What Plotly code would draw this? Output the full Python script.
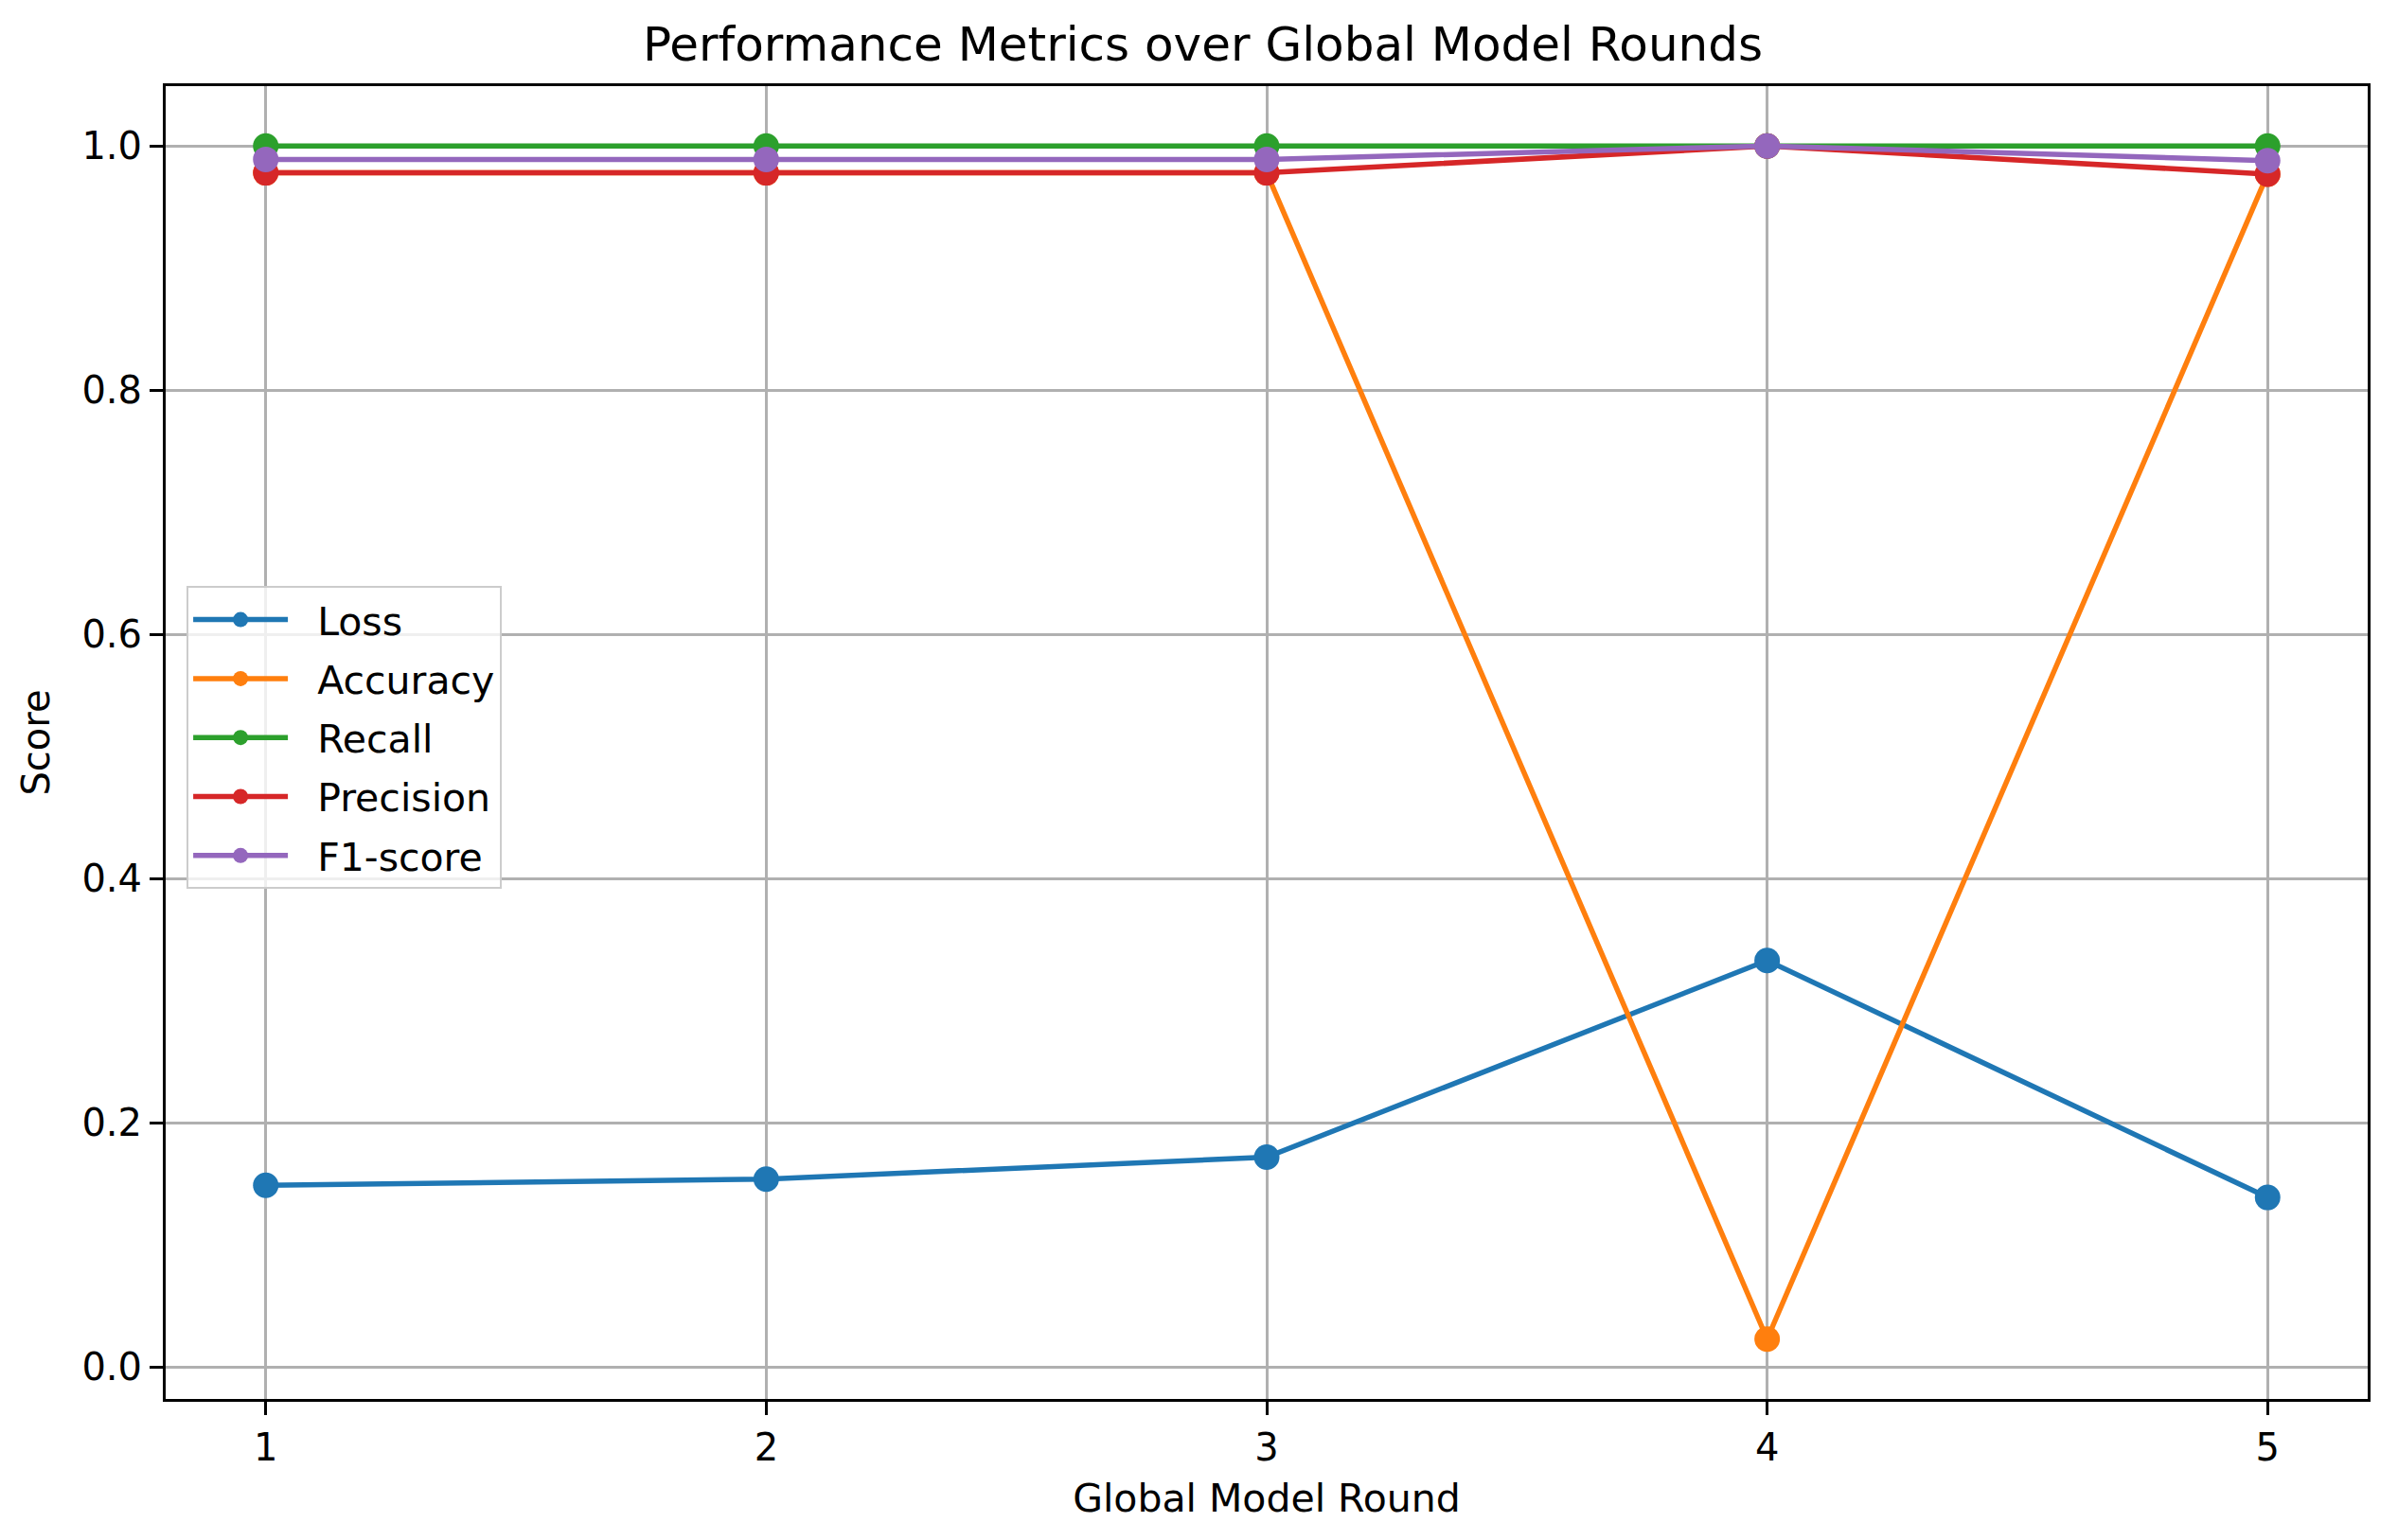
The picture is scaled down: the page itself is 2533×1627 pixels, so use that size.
import plotly.graph_objects as go

rounds = [1, 2, 3, 4, 5]
loss = [0.149, 0.154, 0.172, 0.333, 0.139]
accuracy = [0.978, 0.978, 0.978, 0.023, 0.977]
recall = [1.0, 1.0, 1.0, 1.0, 1.0]
precision = [0.978, 0.978, 0.978, 1.0, 0.977]
f1_score = [0.989, 0.989, 0.989, 1.0, 0.988]

series_names = ["Loss", "Accuracy", "Recall", "Precision", "F1-score"]
series_values = [loss, accuracy, recall, precision, f1_score]
colors = ["#1f77b4", "#ff7f0e", "#2ca02c", "#d62728", "#9467bd"]

FONT = "DejaVu Sans"
W, H = 2525, 1619  # page body has an 8px margin

fig = go.Figure()
for name, vals, col in zip(series_names, series_values, colors):
    fig.add_trace(go.Scatter(
        x=rounds, y=vals, name="\u00a0\u00a0" + name, mode="lines+markers",
        line=dict(color=col, width=5.5),
        marker=dict(color=col, size=27),
        legendgroup=name,
    ))

axis_common = dict(
    showgrid=True, gridcolor="#b0b0b0", gridwidth=2.5,
    showline=True, linecolor="black", linewidth=3, mirror=True,
    ticks="outside", ticklen=14, tickwidth=3, tickcolor="black",
    zeroline=False,
    tickfont=dict(family=FONT, size=40, color="black"),
)

fig.update_layout(
    width=W, height=H,
    paper_bgcolor="white", plot_bgcolor="white",
    margin=dict(l=167, r=32, t=83, b=149),
    title=dict(text="Performance Metrics over Global Model Rounds",
               x=0.5, xanchor="center", y=1 - 38 / H, yanchor="middle",
               font=dict(family=FONT, size=50, color="black")),
    xaxis=dict(axis_common, range=[0.8, 5.2], tickvals=rounds,
               ticktext=[str(r) for r in rounds],
               title=dict(text="Global Model Round", standoff=18,
                          font=dict(family=FONT, size=41, color="black"))),
    yaxis=dict(axis_common, range=[-0.026, 1.049],
               tickvals=[0.0, 0.2, 0.4, 0.6, 0.8, 1.0],
               ticktext=["0.0", "0.2", "0.4", "0.6", "0.8", "1.0"],
               title=dict(text="Score", standoff=22,
                          font=dict(family=FONT, size=40, color="black"))),
    legend=dict(x=0.0095, y=0.619, xanchor="left", yanchor="top",
                bgcolor="rgba(255,255,255,0.8)", bordercolor="#cccccc",
                borderwidth=2, font=dict(family=FONT, size=41, color="black"),
                itemwidth=100, tracegroupgap=6, traceorder="grouped"),
    showlegend=True,
)

fig.write_html("out.html")
